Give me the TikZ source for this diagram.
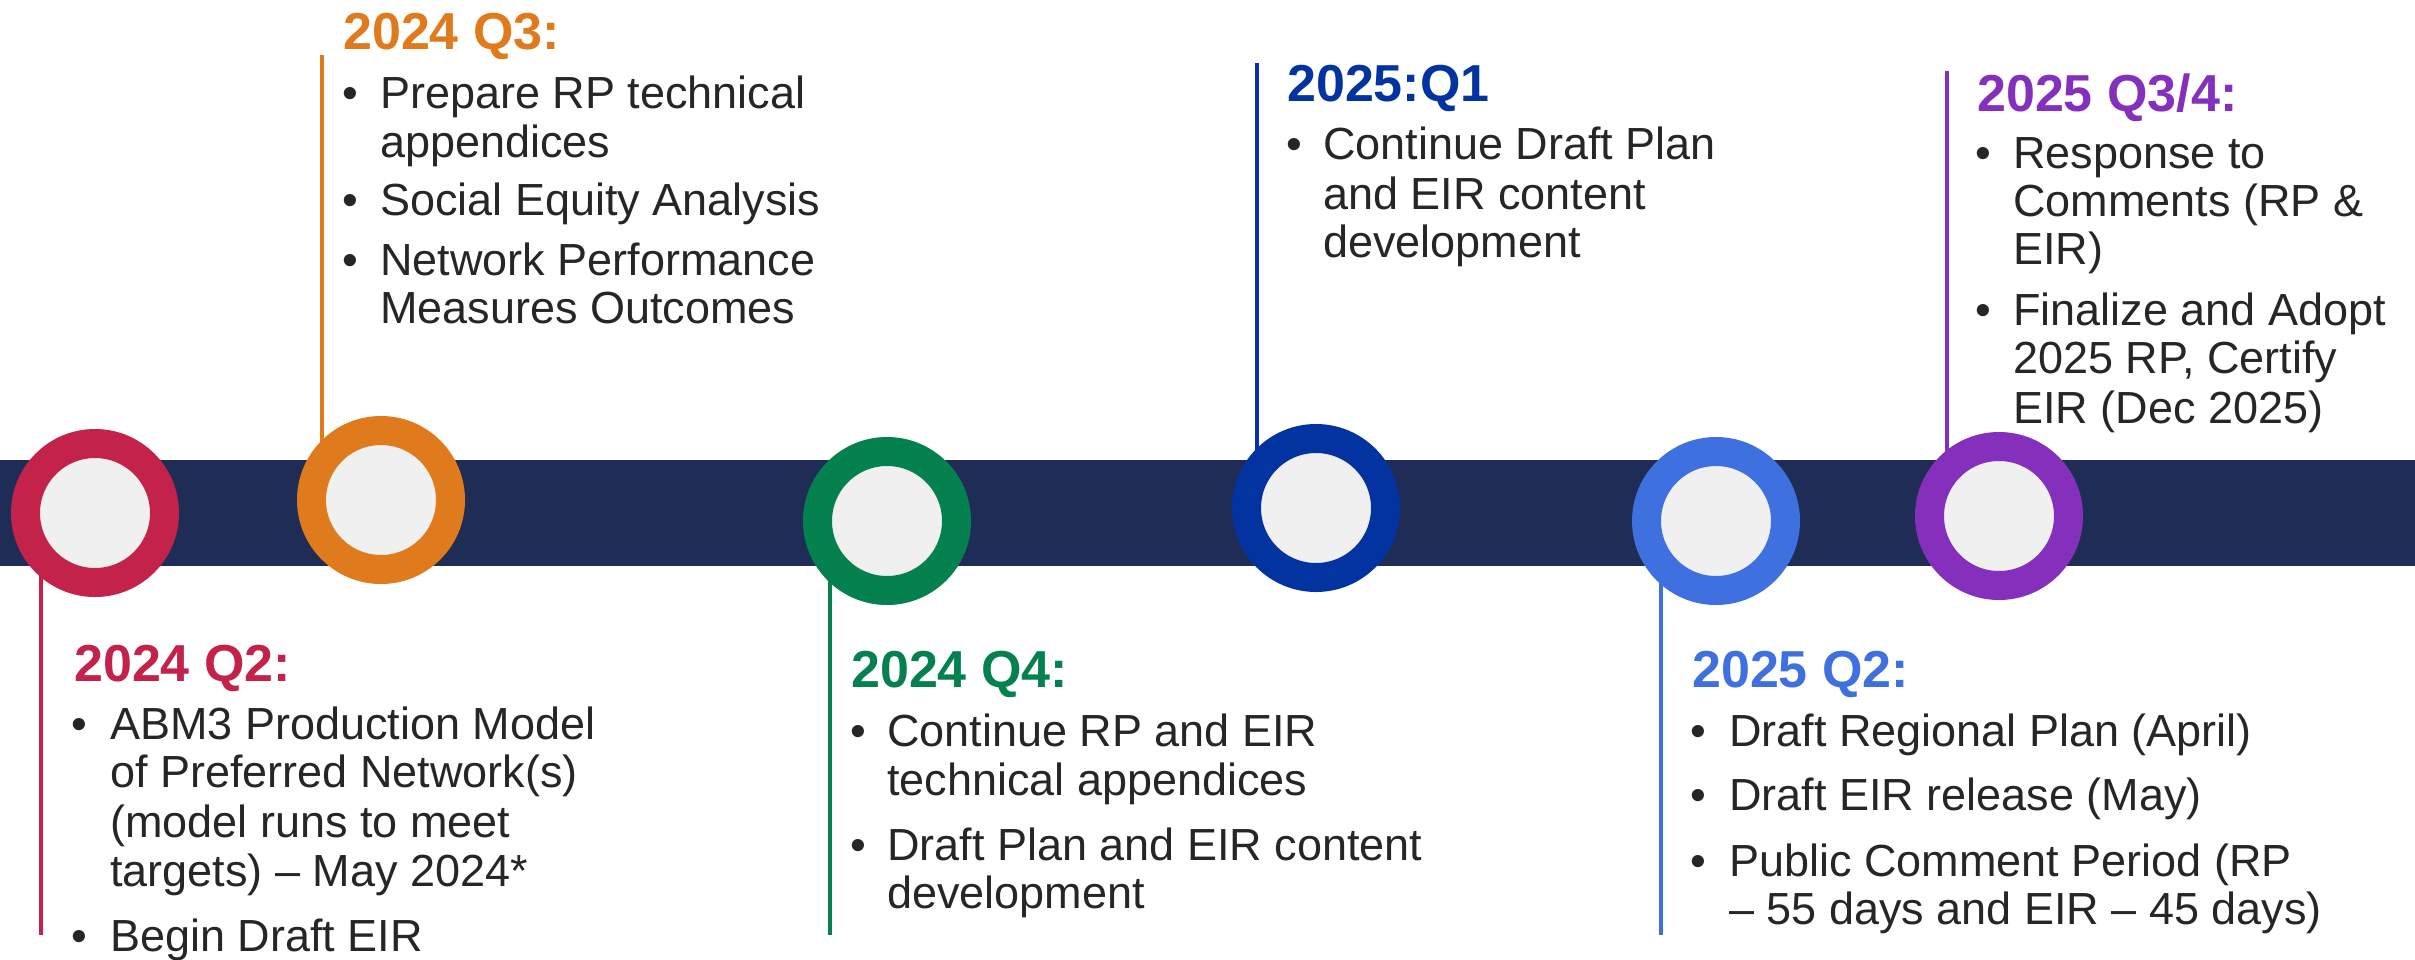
\documentclass[tikz,border=0pt]{standalone}
\usepackage{fontspec}
\setmainfont{Liberation Sans}
\definecolor{navy}{HTML}{1F2D56}
\definecolor{cred}{HTML}{C3224A}
\definecolor{corange}{HTML}{DF7A1D}
\definecolor{cgreen}{HTML}{05804F}
\definecolor{cdblue}{HTML}{0233A0}
\definecolor{clblue}{HTML}{3F70DF}
\definecolor{cpurple}{HTML}{8430BD}
\definecolor{cinner}{HTML}{F0F0F0}
\definecolor{txtc}{HTML}{262626}
\begin{document}
\begin{tikzpicture}[x=1pt,y=-1pt,
  ring/.style={circle, draw=#1, line width=29pt, fill=cinner, minimum size=139pt, inner sep=0pt},
  lead/.style={draw=#1, line width=3.5pt},
  ttl/.style={anchor=base west, inner sep=0pt, text=#1, font=\fontsize{52}{56}\selectfont\bfseries},
  txt/.style={anchor=base west, inner sep=0pt, text=txtc, font=\fontsize{45}{49}\selectfont},
  bul/.style={anchor=base, inner sep=0pt, text=txtc, font=\fontsize{45}{49}\selectfont}]
\useasboundingbox (0,0) rectangle (2415,959);
% circle positions
\coordinate (p1) at (95,513);
\coordinate (p2) at (381,500);
\coordinate (p3) at (887,521);
\coordinate (p4) at (1316,508);
\coordinate (p5) at (1716,521);
\coordinate (p6) at (1999,516);
% leader ends
\coordinate (e1) at (41,935);
\coordinate (e2) at (322,55);
\coordinate (e3) at (830,935);
\coordinate (e4) at (1257,63);
\coordinate (e5) at (1661,935);
\coordinate (e6) at (1947,71);
\draw[lead=cred] (p1 -| e1) -- (e1);
\draw[lead=corange] (p2 -| e2) -- (e2);
\draw[lead=cgreen] (p3 -| e3) -- (e3);
\draw[lead=cdblue] (p4 -| e4) -- (e4);
\draw[lead=clblue] (p5 -| e5) -- (e5);
\draw[lead=cpurple] (p6 -| e6) -- (e6);
% bar
\fill[navy] (0,460) rectangle (2415,566);
% rings
\node[ring=cred] (c1) at (p1) {};
\node[ring=corange] (c2) at (p2) {};
\node[ring=cgreen] (c3) at (p3) {};
\node[ring=cdblue] (c4) at (p4) {};
\node[ring=clblue] (c5) at (p5) {};
\node[ring=cpurple] (c6) at (p6) {};
% 2024 Q2
\node[ttl=cred] (t1) at (74,681) {2024 Q2:};
\node[bul] (b1a) at (79,739) {•};
\node[txt] (l1a) at (110,739) {ABM3 Production Model};
\node[txt] (l1b) at (110,787) {of Preferred Network(s)};
\node[txt] (l1c) at (110,837) {(model runs to meet};
\node[txt] (l1d) at (110,886) {targets) – May 2024*};
\node[bul] (b1b) at (79,951) {•};
\node[txt] (l1e) at (110,951) {Begin Draft EIR};
% 2024 Q3
\node[ttl=corange] (t2) at (343,49) {2024 Q3:};
\node[bul] (b2a) at (350,108) {•};
\node[txt] (l2a) at (380,108) {Prepare RP technical};
\node[txt] (l2b) at (380,157) {appendices};
\node[bul] (b2b) at (350,215) {•};
\node[txt] (l2c) at (380,215) {Social Equity Analysis};
\node[bul] (b2c) at (350,275) {•};
\node[txt] (l2d) at (380,275) {Network Performance};
\node[txt] (l2e) at (380,323) {Measures Outcomes};
% 2024 Q4
\node[ttl=cgreen] (t3) at (851,687) {2024 Q4:};
\node[bul] (b3a) at (858,746) {•};
\node[txt] (l3a) at (887,746) {Continue RP and EIR};
\node[txt] (l3b) at (887,795) {technical appendices};
\node[bul] (b3b) at (858,860) {•};
\node[txt] (l3c) at (887,860) {Draft Plan and EIR content};
\node[txt] (l3d) at (887,908) {development};
% 2025 Q1
\node[ttl=cdblue] (t4) at (1287,101) {2025:Q1};
\node[bul] (b4a) at (1294,159) {•};
\node[txt] (l4a) at (1323,159) {Continue Draft Plan};
\node[txt] (l4b) at (1323,209) {and EIR content};
\node[txt] (l4c) at (1323,257) {development};
% 2025 Q2
\node[ttl=clblue] (t5) at (1692,687) {2025 Q2:};
\node[bul] (b5a) at (1698,746) {•};
\node[txt] (l5a) at (1729,746) {Draft Regional Plan (April)};
\node[bul] (b5b) at (1698,810) {•};
\node[txt] (l5b) at (1729,810) {Draft EIR release (May)};
\node[bul] (b5c) at (1698,876) {•};
\node[txt] (l5c) at (1729,876) {Public Comment Period (RP};
\node[txt] (l5d) at (1729,924) {– 55 days and EIR – 45 days)};
% 2025 Q3/4
\node[ttl=cpurple] (t6) at (1977,111) {2025 Q3/4:};
\node[bul] (b6a) at (1983,168) {•};
\node[txt] (l6a) at (2013,168) {Response to};
\node[txt] (l6b) at (2013,216) {Comments (RP \&};
\node[txt] (l6c) at (2013,264) {EIR)};
\node[bul] (b6b) at (1983,325) {•};
\node[txt] (l6d) at (2013,325) {Finalize and Adopt};
\node[txt] (l6e) at (2013,373) {2025 RP, Certify};
\node[txt] (l6f) at (2013,423) {EIR (Dec 2025)};
\end{tikzpicture}
\end{document}
